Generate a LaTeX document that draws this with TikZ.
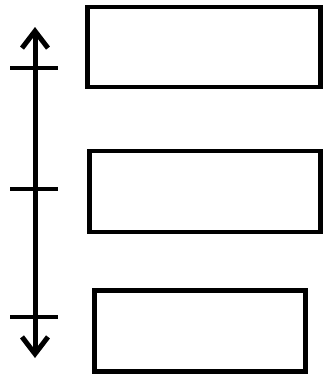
\documentclass[tikz,border=0pt]{standalone}
\usepackage{tikz}
\usetikzlibrary{positioning,arrows.meta}

\tikzset{
  stagebox/.style={draw, line width=4.5pt, inner sep=0pt},
  tickline/.style={line width=4.5pt},
  axisline/.style={line width=5pt, {Straight Barb[length=17pt,width=26pt]}-{Straight Barb[length=17pt,width=26pt]}}
}

\begin{document}
\begin{tikzpicture}[x=1pt, y=-1pt]
    \useasboundingbox (0,0) rectangle (328,376);
    % boxes
    \node[stagebox, minimum width=233pt, minimum height=80pt] (boxtop) at (204,47) {};
    \node[stagebox, minimum width=231pt, minimum height=81pt] (boxmid) at (205,191.5) {};
    \node[stagebox, minimum width=211pt, minimum height=81pt] (boxlow) at (200,331) {};
    % axis
    \coordinate (axistop) at (35,27);
    \coordinate (axislow) at (35,358);
    \draw[axisline] (axislow) -- (axistop);
    % ticks
    \foreach \name/\yy in {ticktop/68, tickmid/189, ticklow/317} {
      \coordinate (\name-l) at (10,\yy);
      \coordinate (\name-r) at (58,\yy);
      \draw[tickline] (\name-l) -- (\name-r);
    }
  \end{tikzpicture}
\end{document}
